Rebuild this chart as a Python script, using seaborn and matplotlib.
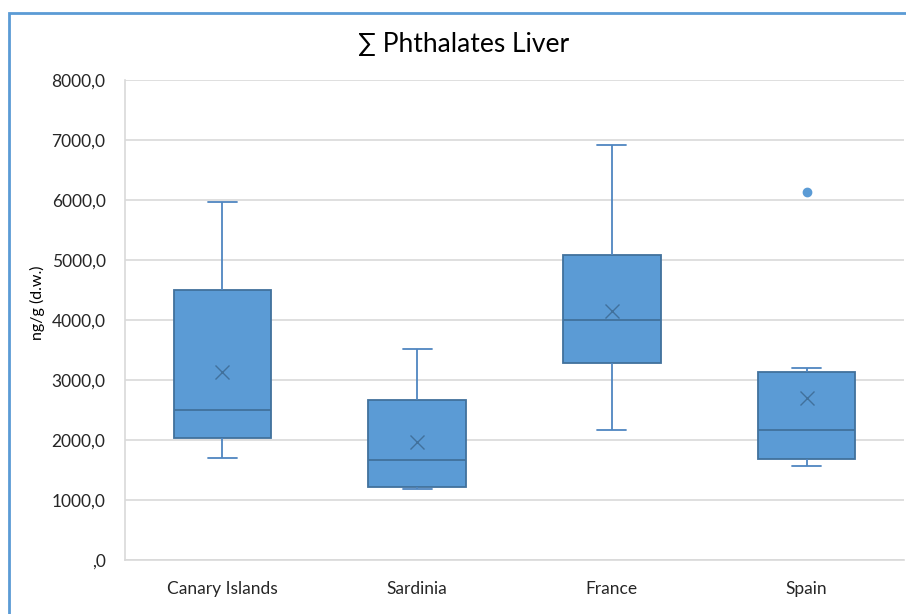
import matplotlib
matplotlib.use("Agg")
import matplotlib.pyplot as plt
import matplotlib.ticker as mticker
import pandas as pd
import seaborn as sns
from matplotlib.patches import Rectangle

TITLE = "∑ Phthalates Liver"
Y_LABEL = "ng/g (d.w.)"
SITES = ["Canary Islands", "Sardinia", "France", "Spain"]

CANARY = [1700, 1900, 2033, 2300, 2500, 2800, 4500, 4500, 5967]
SARDINIA = [1183, 1200, 1217, 1450, 1667, 2000, 2667, 2799, 3517]
FRANCE = [2167, 2800, 3283, 3600, 4000, 4400, 5083, 5100, 6917]
SPAIN = [1567, 1620, 1683, 2000, 2167, 2797, 3133, 3200, 6133]
Y_TICKS = [0, 1000, 2000, 3000, 4000, 5000, 6000, 7000, 8000]

FILL = "#5B9BD5"
EDGE = "#41719C"
WHISK = "#4F86C0"


def fmt_tick(v, _pos):
    s = f"{v:.1f}".replace(".", ",")
    return s[1:] if s.startswith("0,") else s


def main() -> None:
    df = pd.DataFrame({
        "site": [s for s, vals in zip(SITES, [CANARY, SARDINIA, FRANCE, SPAIN]) for _ in vals],
        "value": CANARY + SARDINIA + FRANCE + SPAIN,
    })

    sns.set_theme(style="white")
    plt.rcParams["font.family"] = ["Lato", "DejaVu Sans"]

    fig = plt.figure(figsize=(9.06, 6.14), dpi=100)
    ax = fig.add_axes([125 / 906, 54 / 614, 779 / 906, 480 / 614])

    sns.boxplot(
        data=df, x="site", y="value", order=SITES, ax=ax,
        color=FILL, saturation=1, width=0.5, whis=1.5, linewidth=1.3,
        showmeans=True,
        boxprops={"facecolor": FILL, "edgecolor": EDGE},
        medianprops={"color": EDGE, "linewidth": 1.3},
        whiskerprops={"color": WHISK, "linewidth": 1.3},
        capprops={"color": WHISK, "linewidth": 1.3},
        meanprops={"marker": "x", "markeredgecolor": EDGE, "markersize": 10,
                   "markeredgewidth": 1.0},
        flierprops={"marker": "o", "markerfacecolor": FILL, "markeredgecolor": FILL,
                    "markersize": 6},
        capwidths=0.15,
    )

    ax.set_ylim(0, 8000)
    ax.set_yticks(Y_TICKS)
    ax.yaxis.set_major_formatter(mticker.FuncFormatter(fmt_tick))
    ax.yaxis.grid(True, color="#D9D9D9", linewidth=1.2)
    ax.set_axisbelow(True)
    ax.set_xlabel("")
    ax.set_ylabel("")
    ax.tick_params(axis="y", length=0, pad=14, labelsize=12.5, labelcolor="#262626")
    ax.tick_params(axis="x", length=0, pad=15, labelsize=12.5, labelcolor="#262626")
    for side in ["top", "right"]:
        ax.spines[side].set_visible(False)
    for side in ["left", "bottom"]:
        ax.spines[side].set_color("#D9D9D9")
        ax.spines[side].set_linewidth(1.2)

    fig.text(464 / 906, 1 - 45 / 614, TITLE, ha="center", va="center",
             fontsize=19, color="#000000")
    fig.text(37 / 906, 1 - 303 / 614, Y_LABEL, ha="center", va="center",
             rotation=90, fontsize=11.5, color="#000000")

    fig.patches.append(Rectangle((9 / 906, -0.1), 1.2, 1.1 - 13 / 614,
                                 transform=fig.transFigure, fill=False,
                                 edgecolor=FILL, linewidth=2, zorder=10))

    fig.savefig("out.png", dpi=100)


if __name__ == "__main__":
    main()
